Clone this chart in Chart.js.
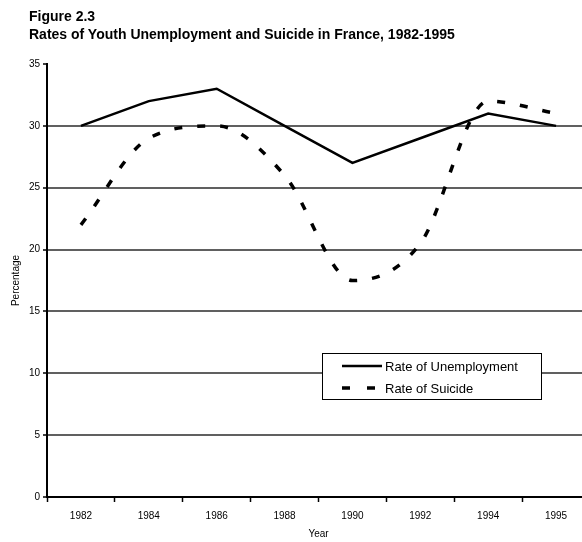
<!DOCTYPE html>
<html>
<head>
<meta charset="utf-8">
<script src="https://cdn.jsdelivr.net/npm/chart.js@4"></script>
<style>
  html, body { margin: 0; padding: 0; background: #fff; overflow: hidden; }
  #wrap { position: relative; width: 582px; height: 542px; overflow: hidden; }
  canvas { position: absolute; left: 0; top: 0; }
  .ttl { position: absolute; left: 29px; font: bold 14px "Liberation Sans", Arial, sans-serif; color: #000; white-space: nowrap; }
</style>
</head>
<body>
<div id="wrap">
  <canvas id="chart" width="600" height="542" style="width:600px;height:542px"></canvas>
  <div class="ttl" style="top:8px">Figure 2.3</div>
  <div class="ttl" style="top:26px">Rates of Youth Unemployment and Suicide in France, 1982-1995</div>
</div>
<script>
const years = ['1982', '1984', '1986', '1988', '1990', '1992', '1994', '1995'];
const unemployment = [30, 32, 33, 30, 27, 29, 31, 30];
const suicide = [22, 29, 30, 26, 17.5, 20.5, 32, 31];
const yTicks = [0, 5, 10, 15, 20, 25, 30, 35];

const font = { family: '"Liberation Sans", Arial, sans-serif', size: 10 };

// legend box drawn inside the plot, like the original
const boxLegend = {
  id: 'boxLegend',
  afterDraw(chart) {
    const c = chart.ctx;
    const x = 322, y = 353, w = 219, h = 46;
    c.save();
    c.fillStyle = '#fff';
    c.fillRect(x, y, w, h);
    c.strokeStyle = '#000';
    c.lineWidth = 1;
    c.strokeRect(x + 0.5, y + 0.5, w, h);
    c.font = '13px "Liberation Sans", Arial, sans-serif';
    c.textBaseline = 'middle';
    chart.data.datasets.forEach((ds, i) => {
      const ly = y + 13 + i * 22;
      c.beginPath();
      c.setLineDash(ds.legendDash || []);
      c.lineWidth = ds.borderWidth;
      c.strokeStyle = ds.borderColor;
      c.moveTo(x + 20, ly);
      c.lineTo(x + 60, ly);
      c.stroke();
      c.setLineDash([]);
      c.fillStyle = '#000';
      c.fillText(ds.label, x + 63, ly + 1);
    });
    c.restore();
  }
};

new Chart(document.getElementById('chart'), {
  type: 'line',
  data: {
    labels: years,
    datasets: [
      {
        label: 'Rate of Unemployment',
        data: unemployment,
        borderColor: '#000',
        borderWidth: 2.5,
        tension: 0,
        pointRadius: 0
      },
      {
        label: 'Rate of Suicide',
        data: suicide,
        borderColor: '#000',
        borderWidth: 3.5,
        borderDash: [8, 15],
        legendDash: [8, 17],
        cubicInterpolationMode: 'monotone',
        pointRadius: 0
      }
    ]
  },
  options: {
    responsive: false,
    animation: false,
    layout: { padding: { top: 64, right: 10, left: 0, bottom: 0 } },
    plugins: {
      legend: { display: false },
      tooltip: { enabled: false }
    },
    scales: {
      x: {
        offset: true,
        grid: { offset: true, drawOnChartArea: false, tickLength: 5, tickColor: '#000', tickWidth: 1.5 },
        border: { color: '#000', width: 2 },
        ticks: { color: '#000', font, padding: 8, maxRotation: 0 },
        title: { display: true, text: 'Year', color: '#000', font, padding: { top: 0, bottom: 2 } },
        afterFit: s => { s.height = 45; }
      },
      y: {
        min: 0,
        max: 35,
        afterBuildTicks: s => { s.ticks = yTicks.map(v => ({ value: v })); },
        grid: {
          color: ctx => (ctx.tick && (ctx.tick.value === 35 || ctx.tick.value === 0)) ? 'rgba(0,0,0,0)' : '#606060',
          lineWidth: 2,
          tickLength: 4,
          tickColor: '#000',
          tickWidth: 1.5
        },
        border: { color: '#000', width: 2 },
        ticks: { color: '#000', font, padding: 3 },
        title: { display: true, text: 'Percentage', color: '#000', font, padding: { top: 10, bottom: 0 } },
        afterFit: s => { s.width = 47; }
      }
    }
  },
  plugins: [boxLegend]
});
</script>
</body>
</html>
